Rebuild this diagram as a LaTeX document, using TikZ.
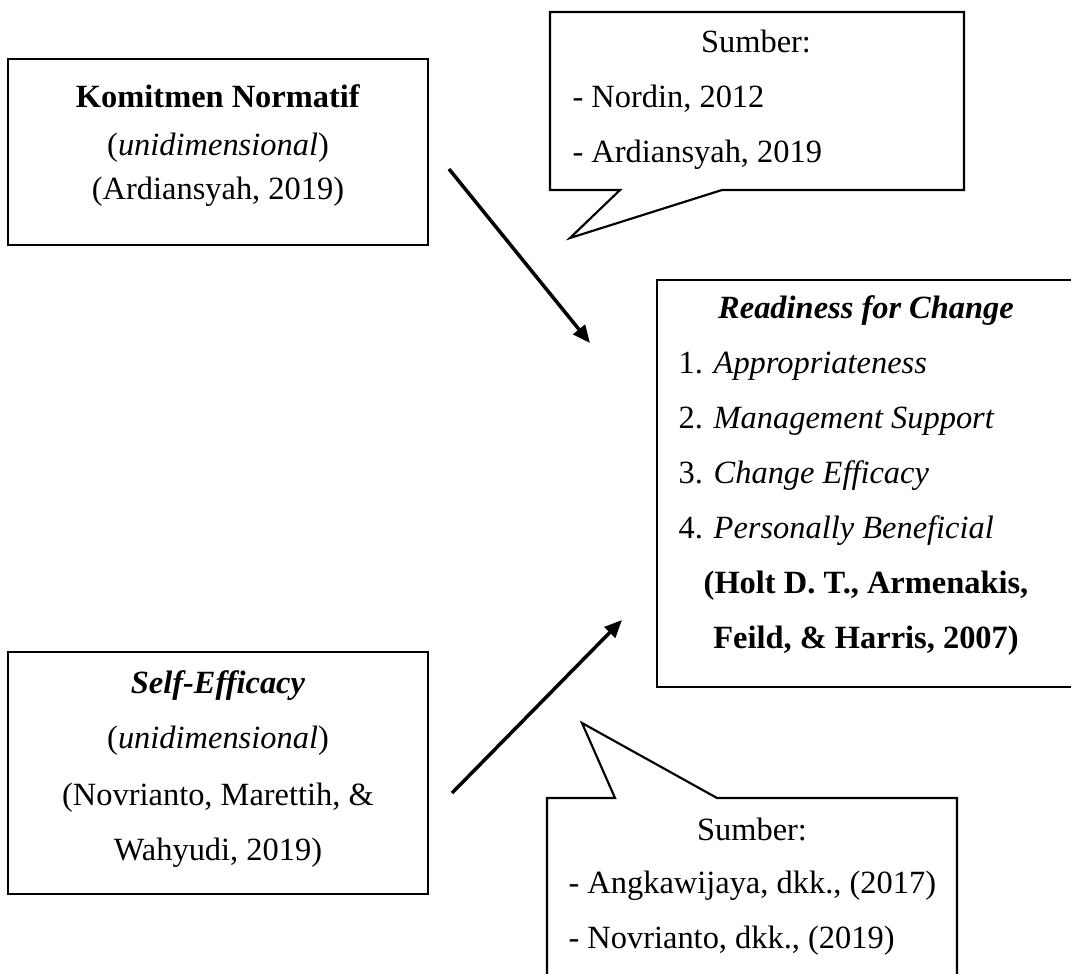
\documentclass[tikz,border=0pt]{standalone}
\usepackage{fontspec}
\setmainfont{Liberation Serif}
\usetikzlibrary{arrows.meta}
\tikzset{
  boxline/.style={draw=black, line width=0.8pt},
  ctr/.style={anchor=base, inner sep=0pt, font=\fontsize{12}{14}\selectfont},
  lft/.style={anchor=base west, inner sep=0pt, font=\fontsize{12}{14}\selectfont},
  conn/.style={line width=1.3pt, -{Triangle[length=6.5pt,width=5.5pt]}},
}
\begin{document}
\begin{tikzpicture}[x=0.37pt, y=-0.37pt]
\useasboundingbox (0,0) rectangle (1071,973);
\clip (0,0) rectangle (1071,973);
\fill[white] (0,0) rectangle (1071,973);

% Komitmen Normatif box
\node[boxline, rectangle, minimum width=420*0.37pt, minimum height=186*0.37pt, inner sep=0pt] (kn) at (218,152) {};
\node[ctr] (kn1) at (218,107) {\textbf{Komitmen Normatif}};
\node[ctr] (kn2) at (218,155) {(\textit{unidimensional})};
\node[ctr] (kn3) at (218,199) {(Ardiansyah, 2019)};

% Self-Efficacy box
\node[boxline, rectangle, minimum width=420*0.37pt, minimum height=242*0.37pt, inner sep=0pt] (se) at (218,773) {};
\node[ctr] (se1) at (218,693) {\textbf{\textit{Self-Efficacy}}};
\node[ctr] (se2) at (218,748) {(\textit{unidimensional})};
\node[ctr] (se3) at (218,805) {(Novrianto, Marettih, \&};
\node[ctr] (se4) at (218,860) {Wahyudi, 2019)};

% Readiness for Change box
\node[boxline, rectangle, minimum width=418*0.37pt, minimum height=407*0.37pt, inner sep=0pt] (rc) at (866,483.5) {};
\node[ctr] (rc0) at (866,318) {\textbf{\textit{Readiness for Change}}};
\node[lft] (rc1) at (678,373) {1. \textit{Appropriateness}};
\node[lft] (rc2) at (678,428) {2. \textit{Management Support}};
\node[lft] (rc3) at (678,483) {3. \textit{Change Efficacy}};
\node[lft] (rc4) at (678,538) {4. \textit{Personally Beneficial}};
\node[ctr] (rc5) at (866,593) {\textbf{(Holt D. T., Armenakis,}};
\node[ctr] (rc6) at (866,648) {\textbf{Feild, \& Harris, 2007)}};

% Top callout
\draw[line width=0.8pt, line join=miter] (550,12) -- (964,12) -- (964,190) -- (722,190) -- (570,238) -- (620,190) -- (550,190) -- cycle;
\node[ctr] (c1a) at (756,52) {Sumber:};
\node[lft] (c1b) at (572,107) {- Nordin, 2012};
\node[lft] (c1c) at (572,162) {- Ardiansyah, 2019};

% Bottom callout
\draw[line width=0.8pt, line join=miter] (547,1010) -- (547,798) -- (615,798) -- (582,723) -- (717,798) -- (957,798) -- (957,1010);
\node[ctr] (c2a) at (752,840) {Sumber:};
\node[lft] (c2b) at (568,893) {- Angkawijaya, dkk., (2017)};
\node[lft] (c2c) at (568,948) {- Novrianto, dkk., (2019)};

% Arrows
\coordinate (a1s) at (449,169);
\coordinate (a1e) at (590,343);
\coordinate (a2s) at (452,793);
\coordinate (a2e) at (622,620);
\draw[conn] (a1s) -- (a1e);
\draw[conn] (a2s) -- (a2e);
\end{tikzpicture}
\end{document}
